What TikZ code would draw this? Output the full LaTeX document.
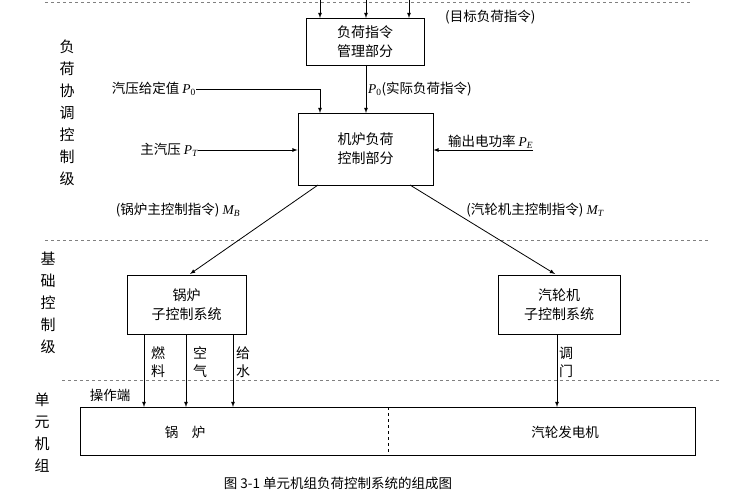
\documentclass[tikz,border=0pt]{standalone}
\usepackage{fontspec}
\setmainfont{Noto Sans CJK SC}
\newfontfamily\tms{Liberation Serif}
\tikzset{x=1pt,y=-1pt,
 bx/.style={draw,thick,align=center,inner sep=0pt,font=\fontsize{14}{19}\selectfont},
 lb/.style={inner sep=0pt,font=\fontsize{13.5}{16}\selectfont},
 vt/.style={inner sep=0pt,align=center,font=\fontsize{15}{22}\selectfont},
 ar/.style={-latex,thick},
 dl/.style={dashed,thick,gray}}
\newcommand{\vit}[1]{{\tms\itshape #1}}
\begin{document}
\begin{tikzpicture}
\useasboundingbox (0,0) rectangle (750,500);
\draw[dl] (45,2) -- (690,2);
\draw[dl] (45,240) -- (708,240);
\draw[dl] (62,380) -- (720,380);
\node[bx,minimum width=118,minimum height=47] (m) at (365,41.5) {负荷指令\\管理部分};
\node[bx,minimum width=135,minimum height=72] (c) at (365.5,149) {机炉负荷\\控制部分};
\node[bx,minimum width=119,minimum height=59] (b) at (186.5,304.5) {锅炉\\子控制系统};
\node[bx,minimum width=122,minimum height=59] (t) at (559,304.5) {汽轮机\\子控制系统};
\node[draw,thick,minimum width=615,minimum height=48,inner sep=0] (u) at (387.5,431) {};
\draw[thick,dashed] (388,407) -- (388,455);
\node[lb] (ub) at (185,432) {锅\quad 炉};
\node[lb] (ut) at (565,432) {汽轮发电机};
\foreach \x/\n in {320/a,366/b,409/c}{\coordinate (top\n) at (\x,0); \draw[ar] (top\n) -- (\x,18);}
\node[lb,anchor=west] (goal) at (445,17) {(目标负荷指令)};
\node[lb,anchor=east] (p0s) at (196,89) {汽压给定值 \vit{P}\textsubscript{\tms 0}};
\draw[ar] (p0s.east) -- (320,89) -- (320,113);
\draw[ar] (366,65) -- (366,113);
\node[lb,anchor=west] (p0a) at (368,89) {\vit{P}\textsubscript{\tms 0}(实际负荷指令)};
\node[lb,anchor=east] (pt) at (198,150) {主汽压 \vit{P\textsubscript{T}}};
\draw[ar] (pt.east) -- (c.west|-pt.east);
\node[lb,anchor=west] (pe) at (448,142) {输出电功率 \vit{P\textsubscript{E}}};
\coordinate (pee) at (533,150);
\draw[ar] (pee) -- (c.east|-pee);
\node[lb] (mb) at (178,210) {(锅炉主控制指令) \vit{M\textsubscript{B}}};
\node[lb] (mt) at (535,210) {(汽轮机主控制指令) \vit{M\textsubscript{T}}};
\draw[ar] (318,185) -- (190,274);
\draw[ar] (410,185) -- (555,274);
\foreach \x in {144,186,233}{\draw[ar] (\x,334) -- (\x,407);}
\draw[ar] (557,334) -- (557,407);
\node[vt,font=\fontsize{14}{18}\selectfont] (f1) at (158,362) {燃\\料};
\node[vt,font=\fontsize{14}{18}\selectfont] (f2) at (200,362) {空\\气};
\node[vt,font=\fontsize{14}{18}\selectfont] (f3) at (243,362) {给\\水};
\node[vt,font=\fontsize{14}{18}\selectfont] (f4) at (566,362) {调\\门};
\node[lb] (op) at (110,395) {操作端};
\node[vt] (l1) at (67,113) {负\\荷\\协\\调\\控\\制\\级};
\node[vt] (l2) at (48,303) {基\\础\\控\\制\\级};
\node[vt] (l3) at (42,433) {单\\元\\机\\组};
\node[lb] (cap) at (338,483) {图 3-1\ 单元机组负荷控制系统的组成图};
\end{tikzpicture}
\end{document}
